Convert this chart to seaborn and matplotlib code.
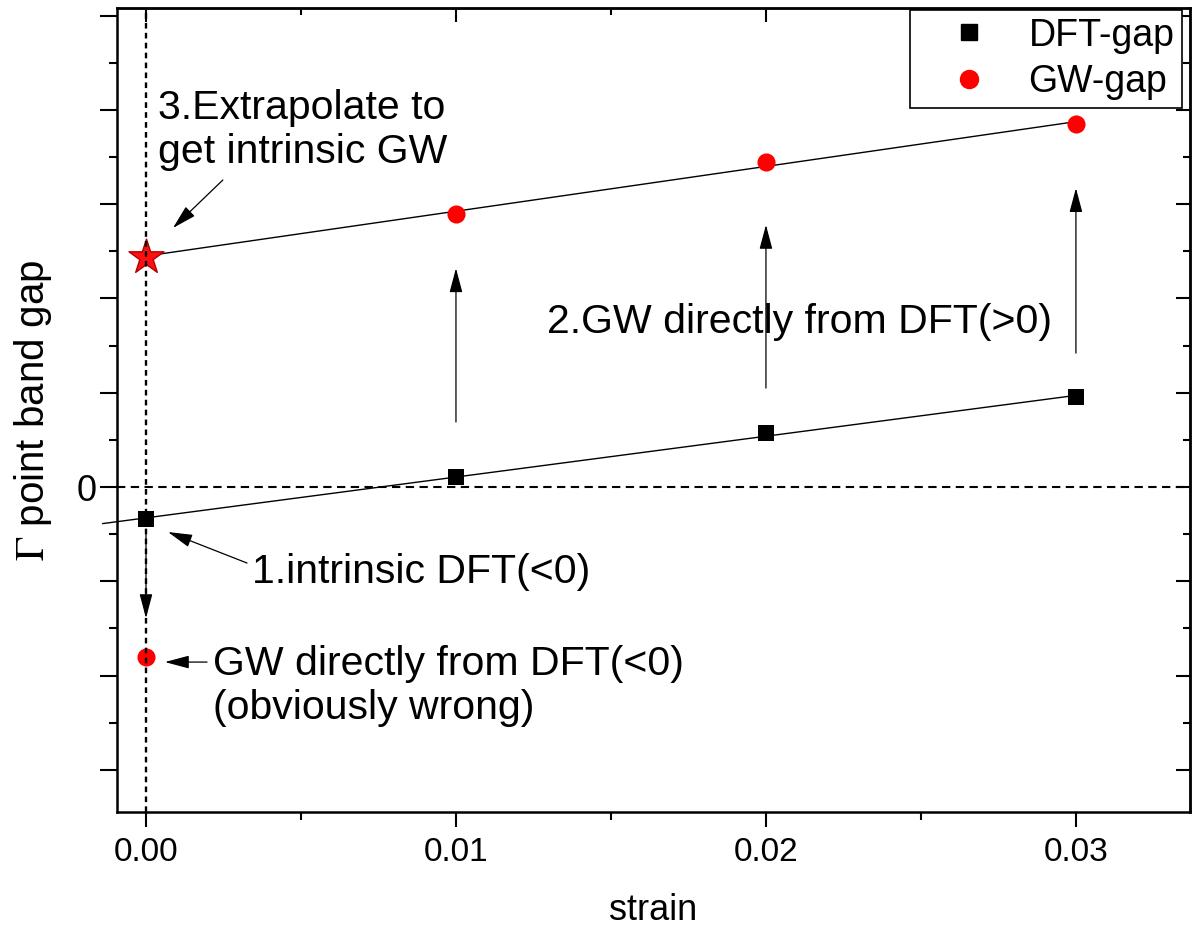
import numpy as np
import pandas as pd
import seaborn as sns
import matplotlib
matplotlib.use("Agg")
import matplotlib.pyplot as plt
from matplotlib.ticker import FixedLocator, FixedFormatter, MultipleLocator
from matplotlib.lines import Line2D

# ---------------- data ----------------
strain = [0.00, 0.01, 0.02, 0.03]
dft_gap = [-0.34, 0.11, 0.57, 0.95]
gw_strain = [0.01, 0.02, 0.03]
gw_gap = [2.90, 3.45, 3.85]
gw_direct_strain = [0.00]
gw_direct_gap = [-1.80]
gw_extrap_strain = [0.00]
gw_extrap_gap = [2.44]
dft_fit_start = -0.0014

# vertical "DFT -> GW" arrows (tail value, head value)
shift_strain = [0.01, 0.02, 0.03]
shift_tail = [0.69, 1.05, 1.42]
shift_head = [2.32, 2.78, 3.17]
down_tail = -0.45
down_head = -1.39

xtick_values = [0.00, 0.01, 0.02, 0.03]
xtick_labels = ["0.00", "0.01", "0.02", "0.03"]
ytick_values = [-3, -2, -1, 0, 1, 2, 3, 4, 5]
ytick_labels = ["", "", "", "0", "", "", "", "", ""]

series_labels = ["DFT-gap", "GW-gap"]

# ---------------- style ----------------
sns.set_style("ticks")
plt.rcParams['font.family'] = ['Liberation Sans', 'DejaVu Sans']
plt.rcParams['mathtext.fontset'] = 'stix'
plt.rcParams['text.color'] = 'black'
plt.rcParams['axes.labelcolor'] = 'black'
plt.rcParams['xtick.color'] = 'black'
plt.rcParams['ytick.color'] = 'black'

fig = plt.figure(figsize=(11.94, 9.32), dpi=100)
ax = fig.add_axes([117 / 1194, 120 / 932, (1190 - 117) / 1194, (812 - 8) / 932])

df_dft = pd.DataFrame({'strain': strain, 'gap': dft_gap})
df_gw = pd.DataFrame({'strain': gw_strain, 'gap': gw_gap})
df_gw_direct = pd.DataFrame({'strain': gw_direct_strain, 'gap': gw_direct_gap})
df_gw_extrap = pd.DataFrame({'strain': gw_extrap_strain, 'gap': gw_extrap_gap})

# linear fits
p_dft = np.polyfit(strain, dft_gap, 1)
p_gw = np.polyfit(gw_strain, gw_gap, 1)
fit_dft = pd.DataFrame({'strain': [dft_fit_start, strain[-1]]})
fit_dft['gap'] = np.polyval(p_dft, fit_dft['strain'])
fit_gw = pd.DataFrame({'strain': [gw_extrap_strain[0], gw_strain[-1]]})
fit_gw['gap'] = np.polyval(p_gw, fit_gw['strain'])

sns.lineplot(data=fit_dft, x='strain', y='gap', color='black', lw=1.0, ax=ax,
             clip_on=False, legend=False)
sns.lineplot(data=fit_gw, x='strain', y='gap', color='black', lw=1.0, ax=ax,
             legend=False)

# reference lines
ax.axhline(0, color='black', lw=1.5, ls=(0, (4, 2.6)), zorder=1.5)

# markers
sns.scatterplot(data=df_dft, x='strain', y='gap', marker='s', color='black',
                s=125, linewidth=0, ax=ax, zorder=3, legend=False)
sns.scatterplot(data=df_gw, x='strain', y='gap', marker='o', color='#ff0000',
                s=170, linewidth=0, ax=ax, zorder=3, legend=False)
sns.scatterplot(data=df_gw_direct, x='strain', y='gap', marker='o', color='#ff0000',
                s=170, linewidth=0, ax=ax, zorder=3, legend=False)
sns.scatterplot(data=df_gw_extrap, x='strain', y='gap', marker='*', color='#ff1010',
                edgecolor='#b00000', s=700, linewidth=1.0, ax=ax, zorder=3, legend=False)

ax.axvline(0, color='black', lw=1.7, ls=(0, (2.4, 1.8)), zorder=4)

# arrows
arrow_kw = dict(arrowstyle='-|>,head_length=0.75,head_width=0.2', color='black',
                lw=0.9, mutation_scale=20, shrinkA=0, shrinkB=0)
for xs, t, h in zip(shift_strain, shift_tail, shift_head):
    ax.annotate('', xy=(xs, h), xytext=(xs, t), arrowprops=arrow_kw)
ax.annotate('', xy=(strain[0], down_head), xytext=(strain[0], down_tail), arrowprops=arrow_kw)

txt_fs = 29.5
ax.annotate('', xy=(0.00087, 2.747), xytext=(0.00248, 3.256), arrowprops=arrow_kw)
ax.text(0.00039, 3.79, "3.Extrapolate to\nget intrinsic GW", fontsize=txt_fs,
        ha='left', va='center')

ax.text(0.01294, 1.745, "2.GW directly from DFT(>0)", fontsize=txt_fs,
        ha='left', va='center')

ax.annotate('', xy=(0.00071, -0.477), xytext=(0.00326, -0.806), arrowprops=arrow_kw)
ax.text(0.00342, -0.896, "1.intrinsic DFT(<0)", fontsize=txt_fs, ha='left', va='center')

ax.annotate('', xy=(0.00061, -1.856), xytext=(0.00197, -1.856), arrowprops=arrow_kw)
ax.text(0.00216, -2.11, "GW directly from DFT(<0)\n(obviously wrong)", fontsize=txt_fs,
        ha='left', va='center')

# axes limits / ticks
ax.set_xlim(-0.000935, 0.03368)
ax.set_ylim(-3.446, 5.08)

ax.xaxis.set_major_locator(FixedLocator(xtick_values))
ax.xaxis.set_major_formatter(FixedFormatter(xtick_labels))
ax.xaxis.set_minor_locator(MultipleLocator(0.005))
ax.yaxis.set_major_locator(FixedLocator(ytick_values))
ax.yaxis.set_major_formatter(FixedFormatter(ytick_labels))
ax.yaxis.set_minor_locator(MultipleLocator(0.5))

ax.tick_params(axis='x', which='major', direction='out', length=11, width=1.5,
               labelsize=24, pad=7, colors='black')
ax.tick_params(axis='y', which='major', direction='out', length=12, width=1.5,
               labelsize=26, pad=3, colors='black')
ax.tick_params(which='minor', direction='out', length=6, width=1.5, colors='black')

for sp in ax.spines.values():
    sp.set_linewidth(1.8)
    sp.set_color('black')

# mirrored inward ticks on top and right
top = ax.secondary_xaxis('top')
top.xaxis.set_major_locator(FixedLocator(xtick_values))
top.xaxis.set_minor_locator(MultipleLocator(0.005))
top.tick_params(which='major', direction='in', length=10, width=1.5, labeltop=False)
top.tick_params(which='minor', direction='in', length=5, width=1.5)
top.spines['top'].set_linewidth(1.8)
right = ax.secondary_yaxis('right')
right.yaxis.set_major_locator(FixedLocator(ytick_values))
right.yaxis.set_minor_locator(MultipleLocator(0.5))
right.tick_params(which='major', direction='in', length=10, width=1.5, labelright=False)
right.tick_params(which='minor', direction='in', length=5, width=1.5)
right.spines['right'].set_linewidth(1.8)

ax.set_xlabel("strain", fontsize=26, labelpad=18, color='black')
ax.set_ylabel(r"$\Gamma$ point band gap", fontsize=29, labelpad=16, color='black')

# legend
handles = [Line2D([], [], marker='s', color='black', ls='none', markersize=11),
           Line2D([], [], marker='o', color='#ff0000', ls='none', markersize=13)]
leg = ax.legend(handles, series_labels, loc='upper right', bbox_to_anchor=(0.9925, 0.9975),
                fontsize=27, frameon=True, fancybox=False, edgecolor='black',
                handletextpad=0.2, labelspacing=0.29, borderpad=0.2, handlelength=2.77,
                borderaxespad=0)
leg.get_frame().set_linewidth(1.2)
leg.get_frame().set_alpha(1)

fig.savefig("out.png", dpi=100)
